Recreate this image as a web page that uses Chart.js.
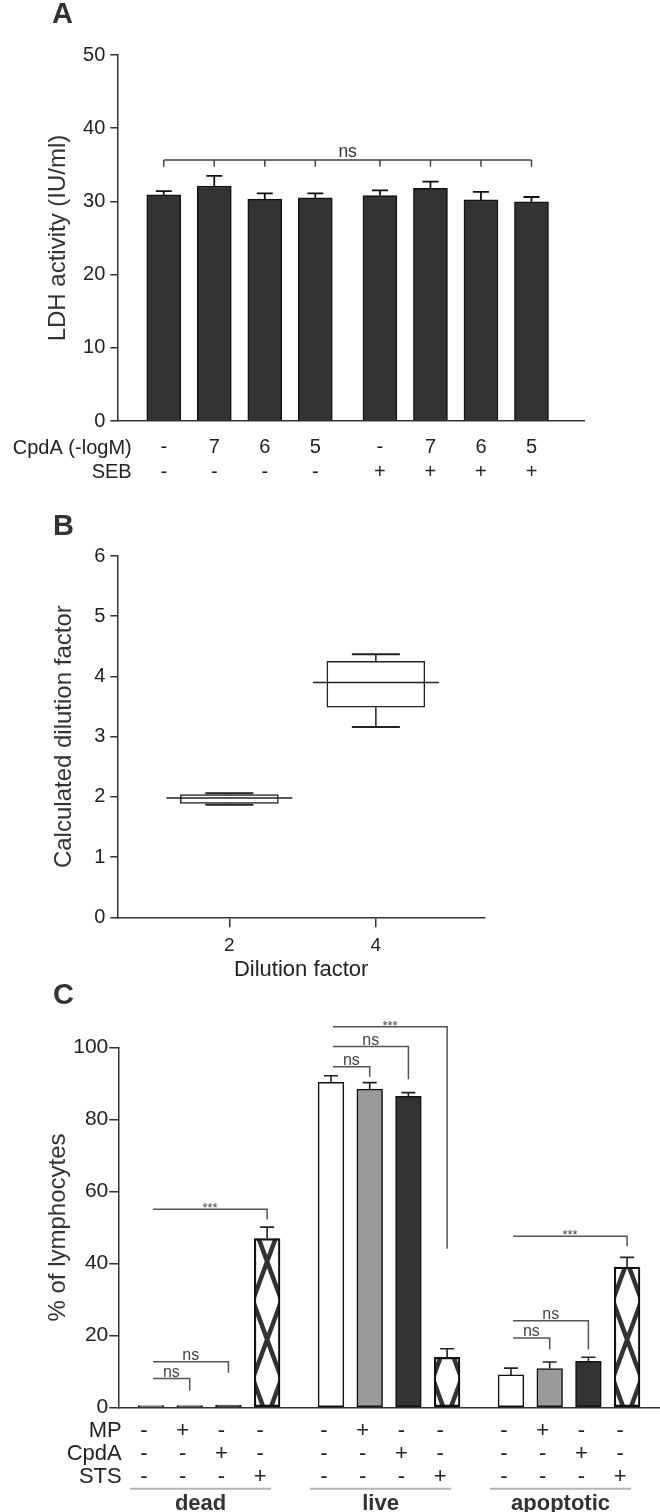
<!DOCTYPE html>
<html>
<head>
<meta charset="utf-8">
<script src="https://cdn.jsdelivr.net/npm/chart.js@4.4.1/dist/chart.umd.min.js"></script>
<style>
  html, body { margin: 0; padding: 0; background: #fff; }
  #wrap { position: relative; width: 660px; height: 1512px; overflow: hidden; }
  canvas { position: absolute; left: 0; }
</style>
</head>
<body>
<div id="wrap">
  <canvas id="chartA" width="660" height="495" style="top:0px"></canvas>
  <canvas id="chartB" width="660" height="486" style="top:500px"></canvas>
  <canvas id="chartC" width="660" height="542" style="top:970px"></canvas>
</div>
<script>
// ---- data, panel A (LDH activity) ----
const ldh = [30.9, 32.1, 30.3, 30.5, 30.8, 31.8, 30.2, 29.95];
const ldhErr = [0.5, 1.4, 0.8, 0.6, 0.7, 0.9, 1.1, 0.65];
const cpdaA = ['-', '7', '6', '5', '-', '7', '6', '5'];
const sebA = ['-', '-', '-', '-', '+', '+', '+', '+'];
const bracketA = [35.65, 34.75]; // level, tick end

// ---- data, panel B (dilution box plot) ----
const dilutions = [2, 4];
const whiskLow = [1.87, 3.16];
const q1 = [1.89, 3.49];
const median = [1.98, 3.90];
const q3 = [2.04, 4.25];
const whiskHigh = [2.06, 4.37];

// ---- data, panel C (% of lymphocytes) ----
const groups = ['dead', 'live', 'apoptotic'];
const mpRow = ['-', '+', '-', '-'];
const cpdaRow = ['-', '-', '+', '-'];
const stsRow = ['-', '-', '-', '+'];
const dead = [0.5, 0.5, 0.6, 46.9];
const deadErr = [0, 0, 0, 3.2];
const live = [90.4, 88.5, 86.5, 13.9];
const liveErr = [1.8, 1.8, 1.0, 2.4];
const apoptotic = [9.0, 10.8, 12.8, 39.0];
const apoptoticErr = [1.9, 1.8, 1.1, 2.7];
// [from bar, to bar, line level, drop end, label]
const bracketsC = [
  [0, 1, 8.0, 4.7, 'ns'], [0, 2, 12.7, 9.6, 'ns'], [0, 3, 55.1, 52.3, '***'],
  [4, 5, 94.7, 91.9, 'ns'], [4, 6, 100.3, 91.2, 'ns'], [4, 7, 105.8, 44.1, '***'],
  [8, 9, 19.3, 16.1, 'ns'], [8, 10, 24.1, 16.1, 'ns'], [8, 11, 47.6, 44.8, '***']
];

const FONT = "'Liberation Sans', Arial, Helvetica, sans-serif";
Chart.defaults.font.family = FONT;
Chart.defaults.color = '#222';
Chart.defaults.animation = false;
Chart.defaults.plugins.legend.display = false;
Chart.defaults.plugins.tooltip.enabled = false;

function panelLetter(ctx, txt, x, y) {
  ctx.save();
  ctx.font = 'bold 29px ' + FONT;
  ctx.fillStyle = '#333';
  ctx.textBaseline = 'alphabetic';
  ctx.fillText(txt, x, y);
  ctx.restore();
}

// ===================== Panel A =====================
const posA = ldh.map((v, i) => i + 1 + (i >= 4 ? 0.28 : 0));

const panelA = {
  id: 'panelA',
  afterDatasetsDraw(chart) {
    const { ctx, scales: { x, y } } = chart;
    ctx.save();
    // error bars
    ctx.strokeStyle = '#111';
    ctx.lineWidth = 1.8;
    ldh.forEach((v, i) => {
      const px = x.getPixelForValue(posA[i]);
      const top = y.getPixelForValue(v);
      const cap = y.getPixelForValue(v + ldhErr[i]);
      ctx.beginPath();
      ctx.moveTo(px, top); ctx.lineTo(px, cap);
      ctx.moveTo(px - 8, cap); ctx.lineTo(px + 8, cap);
      ctx.stroke();
    });
    // bracket over all bars
    const yl = y.getPixelForValue(bracketA[0]);
    const ye = y.getPixelForValue(bracketA[1]);
    const x1 = x.getPixelForValue(posA[0]);
    const x2 = x.getPixelForValue(posA[posA.length - 1]);
    ctx.strokeStyle = '#444';
    ctx.lineWidth = 1.5;
    ctx.beginPath();
    ctx.moveTo(x1, yl); ctx.lineTo(x2, yl);
    posA.forEach(p => {
      const px = x.getPixelForValue(p);
      ctx.moveTo(px, yl); ctx.lineTo(px, ye);
    });
    ctx.stroke();
    ctx.fillStyle = '#333';
    ctx.font = '17.5px ' + FONT;
    ctx.textAlign = 'center';
    ctx.textBaseline = 'alphabetic';
    ctx.fillText('ns', (x1 + x2) / 2, yl - 3);
    ctx.restore();
  },
  afterDraw(chart) {
    const { ctx, chartArea } = chart;
    panelLetter(ctx, 'A', 52, 23);
    ctx.save();
    ctx.font = '20px ' + FONT;
    ctx.fillStyle = '#222';
    ctx.textAlign = 'right';
    ctx.textBaseline = 'middle';
    ctx.fillText('CpdA (-logM)', 131.7, chartArea.bottom + 27);
    ctx.fillText('SEB', 131.7, chartArea.bottom + 51.7);
    ctx.restore();
  }
};

new Chart(document.getElementById('chartA'), {
  type: 'bar',
  data: {
    datasets: [{
      data: ldh.map((v, i) => ({ x: posA[i], y: v })),
      backgroundColor: '#333333',
      borderColor: '#111',
      borderWidth: 1.5,
      barThickness: 34
    }]
  },
  options: {
    responsive: false,
    layout: { padding: { top: 55, right: 76, left: 0, bottom: 0 } },
    scales: {
      x: {
        type: 'linear', min: 0.08, max: 9.32, offset: false,
        afterBuildTicks: s => { s.ticks = posA.map(v => ({ value: v })); },
        afterFit: s => { s.height = 74; },
        grid: { display: false, drawTicks: false, offset: false },
        border: { color: '#333', width: 1.5 },
        ticks: {
          autoSkip: false, maxRotation: 0, padding: 14.6, color: '#222',
          font: { size: 20, lineHeight: 1.235 },
          callback: (v, i) => [cpdaA[i], sebA[i]]
        }
      },
      y: {
        min: 0, max: 50,
        afterFit: s => { s.width = 117.3; },
        ticks: { stepSize: 10, padding: 5, color: '#222', font: { size: 20 } },
        grid: { drawOnChartArea: false, tickLength: 7, color: '#333', lineWidth: 1.5 },
        border: { color: '#333', width: 1.5 },
        title: { display: true, text: 'LDH activity (IU/ml)', color: '#333',
                 font: { size: 24 }, padding: { top: 44 } }
      }
    }
  },
  plugins: [panelA]
});

// ===================== Panel B =====================
const panelB = {
  id: 'panelB',
  afterDatasetsDraw(chart) {
    const { ctx, scales: { x, y } } = chart;
    ctx.save();
    ctx.strokeStyle = '#222';
    dilutions.forEach((d, i) => {
      const px = x.getPixelForValue(d);
      // whiskers
      ctx.lineWidth = 1.5;
      ctx.beginPath();
      ctx.moveTo(px, y.getPixelForValue(q3[i])); ctx.lineTo(px, y.getPixelForValue(whiskHigh[i]));
      ctx.moveTo(px, y.getPixelForValue(q1[i])); ctx.lineTo(px, y.getPixelForValue(whiskLow[i]));
      ctx.stroke();
      ctx.lineWidth = 2;
      ctx.beginPath();
      ctx.moveTo(px - 24, y.getPixelForValue(whiskHigh[i])); ctx.lineTo(px + 24, y.getPixelForValue(whiskHigh[i]));
      ctx.moveTo(px - 24, y.getPixelForValue(whiskLow[i])); ctx.lineTo(px + 24, y.getPixelForValue(whiskLow[i]));
      ctx.stroke();
      // median
      ctx.lineWidth = 1.5;
      ctx.beginPath();
      ctx.moveTo(px - 63, y.getPixelForValue(median[i])); ctx.lineTo(px + 63, y.getPixelForValue(median[i]));
      ctx.stroke();
    });
    ctx.restore();
  },
  afterDraw(chart) {
    panelLetter(chart.ctx, 'B', 53, 35);
  }
};

new Chart(document.getElementById('chartB'), {
  type: 'bar',
  data: {
    datasets: [{
      data: dilutions.map((d, i) => ({ x: d, y: [q1[i], q3[i]] })),
      backgroundColor: '#fff',
      borderColor: '#222',
      borderWidth: 1.5,
      borderSkipped: false,
      barThickness: 98
    }]
  },
  options: {
    responsive: false,
    layout: { padding: { top: 56, right: 175, left: 0, bottom: 0 } },
    scales: {
      x: {
        type: 'linear', min: 0.47, max: 5.49, offset: false,
        afterBuildTicks: s => { s.ticks = dilutions.map(v => ({ value: v })); },
        afterFit: s => { s.height = 68.7; },
        grid: { drawOnChartArea: false, tickLength: 10, color: '#333', lineWidth: 1.5, offset: false },
        border: { color: '#333', width: 1.5 },
        ticks: { autoSkip: false, maxRotation: 0, padding: 7, color: '#222', font: { size: 19 } },
        title: { display: true, text: 'Dilution factor', color: '#222',
                 font: { size: 22 }, padding: { bottom: 3, top: 0 } }
      },
      y: {
        min: 0, max: 6,
        afterFit: s => { s.width = 117.3; },
        ticks: { stepSize: 1, padding: 5, color: '#222', font: { size: 20 } },
        grid: { drawOnChartArea: false, tickLength: 7, color: '#333', lineWidth: 1.5 },
        border: { color: '#333', width: 1.5 },
        title: { display: true, text: 'Calculated dilution factor', color: '#333',
                 font: { size: 24 }, padding: { top: 50 } }
      }
    }
  },
  plugins: [panelB]
});

// ===================== Panel C =====================
const valuesC = dead.concat(live, apoptotic);
const errC = deadErr.concat(liveErr, apoptoticErr);
const posC = valuesC.map((v, i) => Math.floor(i / 4) * 4.65 + (i % 4));
const fillsC = valuesC.map((v, i) => ['#ffffff', '#9a9a9a', '#333333', 'rgba(0,0,0,0)'][i % 4]);

function drawHatch(ctx, el) {
  const { x, y, base, width } = el.getProps(['x', 'y', 'base', 'width'], true);
  const l = x - width / 2;
  ctx.save();
  ctx.beginPath();
  ctx.rect(l, y, width, base - y);
  ctx.clip();
  ctx.fillStyle = '#fff';
  ctx.fillRect(l, y, width, base - y);
  ctx.strokeStyle = '#333';
  ctx.lineWidth = 4.5;
  for (let yc = base - 67 + 78; yc > y - 80; yc -= 78) {
    ctx.beginPath();
    ctx.moveTo(x - width, yc - 70); ctx.lineTo(x + width, yc + 70);
    ctx.moveTo(x - width, yc + 70); ctx.lineTo(x + width, yc - 70);
    ctx.stroke();
  }
  ctx.restore();
}

const panelC = {
  id: 'panelC',
  beforeDatasetsDraw(chart) {
    const meta = chart.getDatasetMeta(0);
    meta.data.forEach((el, i) => { if (i % 4 === 3) drawHatch(chart.ctx, el); });
  },
  afterDatasetsDraw(chart) {
    const { ctx, scales: { x, y } } = chart;
    ctx.save();
    // error bars
    ctx.strokeStyle = '#222';
    ctx.lineWidth = 1.6;
    valuesC.forEach((v, i) => {
      if (!errC[i]) return;
      const px = x.getPixelForValue(posC[i]);
      const cap = y.getPixelForValue(v + errC[i]);
      ctx.beginPath();
      ctx.moveTo(px, y.getPixelForValue(v)); ctx.lineTo(px, cap);
      ctx.moveTo(px - 7, cap); ctx.lineTo(px + 7, cap);
      ctx.stroke();
    });
    // significance brackets
    ctx.strokeStyle = '#555';
    ctx.lineWidth = 1.5;
    ctx.fillStyle = '#444';
    ctx.textAlign = 'center';
    ctx.textBaseline = 'alphabetic';
    bracketsC.forEach(([a, b, lvl, end, txt]) => {
      const x1 = x.getPixelForValue(posC[a]) + 2;
      const x2 = x.getPixelForValue(posC[b]);
      const yl = y.getPixelForValue(lvl);
      const ye = y.getPixelForValue(end);
      ctx.beginPath();
      ctx.moveTo(x1, yl); ctx.lineTo(x2, yl); ctx.lineTo(x2, ye);
      ctx.stroke();
      if (txt === '***') {
        ctx.font = '13px ' + FONT;
        ctx.fillText(txt, (x1 + x2) / 2, yl + 3);
      } else {
        ctx.font = '16px ' + FONT;
        ctx.fillText(txt, (x1 + x2) / 2, yl - 2);
      }
    });
    ctx.restore();
  },
  afterDraw(chart) {
    const { ctx, chartArea, scales: { x } } = chart;
    panelLetter(ctx, 'C', 53, 33.5);
    ctx.save();
    ctx.fillStyle = '#222';
    ctx.font = '22px ' + FONT;
    ctx.textBaseline = 'middle';
    const rows = [['MP', mpRow, 23.7], ['CpdA', cpdaRow, 46.4], ['STS', stsRow, 69.7]];
    rows.forEach(([name, row, dy]) => {
      ctx.textAlign = 'right';
      ctx.fillText(name, 121.7, chartArea.bottom + dy);
      ctx.textAlign = 'center';
      valuesC.forEach((v, i) => {
        ctx.fillText(row[i % 4], x.getPixelForValue(posC[i]) - 7, chartArea.bottom + dy);
      });
    });
    // group underlines and names
    groups.forEach((g, gi) => {
      const xa = x.getPixelForValue(posC[gi * 4]) - 21;
      const xb = x.getPixelForValue(posC[gi * 4 + 3]) + 4;
      ctx.strokeStyle = '#b4b4b4';
      ctx.lineWidth = 2;
      ctx.beginPath();
      ctx.moveTo(xa, chartArea.bottom + 81.4); ctx.lineTo(xb, chartArea.bottom + 81.4);
      ctx.stroke();
      ctx.font = 'bold 22px ' + FONT;
      ctx.fillStyle = '#333';
      ctx.textAlign = 'center';
      ctx.fillText(g, (xa + xb) / 2, chartArea.bottom + 96.4);
    });
    ctx.restore();
  }
};

new Chart(document.getElementById('chartC'), {
  type: 'bar',
  data: {
    datasets: [{
      data: valuesC.map((v, i) => ({ x: posC[i], y: v })),
      backgroundColor: fillsC,
      borderColor: '#111',
      borderWidth: 1.5,
      borderSkipped: false,
      barThickness: 25.7
    }]
  },
  options: {
    responsive: false,
    layout: { padding: { top: 77.7, right: 0, left: 0, bottom: 0 } },
    scales: {
      x: {
        type: 'linear', min: -0.845, max: 13.15, offset: false,
        afterFit: s => { s.height = 104.7; },
        grid: { display: false, drawTicks: false, offset: false },
        border: { color: '#333', width: 1.5 },
        ticks: { display: false }
      },
      y: {
        min: 0, max: 100,
        afterFit: s => { s.width = 118.3; },
        ticks: { stepSize: 20, padding: 1, color: '#222', font: { size: 21 } },
        grid: { drawOnChartArea: false, tickLength: 9, color: '#333', lineWidth: 1.5 },
        border: { color: '#333', width: 1.5 },
        title: { display: true, text: '% of lymphocytes', color: '#333',
                 font: { size: 24 }, padding: { top: 44 } }
      }
    }
  },
  plugins: [panelC]
});
</script>
</body>
</html>
